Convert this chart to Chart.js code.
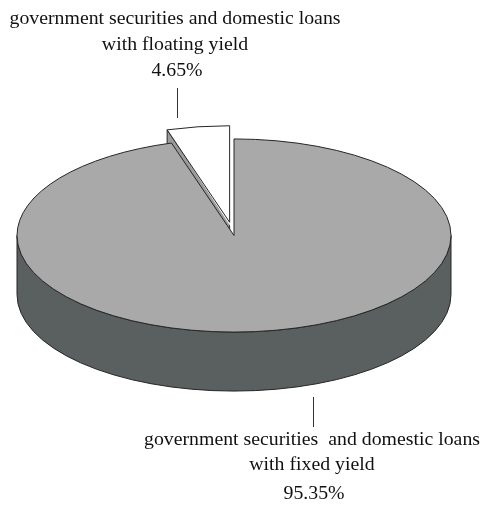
<!DOCTYPE html>
<html>
<head>
<meta charset="utf-8">
<script src="https://cdn.jsdelivr.net/npm/chart.js@4.4.1/dist/chart.umd.min.js"></script>
<style>
  html, body { margin: 0; padding: 0; background: #fff; }
  #wrap { width: 489px; height: 505px; }
</style>
</head>
<body>
<div id="wrap"><canvas id="pie" width="489" height="505"></canvas></div>
<script>
// slice data
const labelLines = [
  ['government securities  and domestic loans', 'with fixed yield'],
  ['government securities and domestic loans', 'with floating yield']
];
const shares = [95.35, 4.65];
const explode = [0, 70];

// look of the disc
const topColors = ['#a9a9a9', '#ffffff'];
const sideColors = ['#5a5f5f', '#9b9b9b'];
const TILT = 0.445;   // vertical squash of the top face
const DEPTH = 59;     // thickness in px
const EDGE = '#262626';

// where each caption sits (bottom one for the big slice, top one for the small)
const captions = [
  { x: 312, lineY: [445, 470], pctY: 499, leadX: 313.5, lead: [397, 427] },
  { x: 175, lineY: [24, 50], pctY: 76, leadX: 177.5, lead: [88, 118] }
];

// same shift ArcElement.draw applies for `offset`
function shiftOf(arc) {
  const o = (arc.options.offset || 0) / 4;
  const half = (arc.startAngle + arc.endAngle) / 2;
  const fix = 1 - Math.sin(Math.min(Math.PI, arc.circumference || 0));
  const d = o * (1 + fix);
  return { dx: Math.cos(half) * d, dy: Math.sin(half) * d };
}

function centerOf(arc) {
  const s = shiftOf(arc);
  return { x: arc.x + s.dx, y: arc.y + s.dy * TILT };
}

function rimPoint(arc, a, drop) {
  const c = centerOf(arc);
  return { x: c.x + arc.outerRadius * Math.cos(a), y: c.y + arc.outerRadius * TILT * Math.sin(a) + drop };
}

const pie3d = {
  id: 'pie3d',
  beforeDatasetsDraw(chart) {
    const ctx = chart.ctx;
    const arcs = chart.getDatasetMeta(0).data;
    ctx.save();
    ctx.lineWidth = 1;
    ctx.strokeStyle = EDGE;
    ctx.lineJoin = 'round';

    // cut faces that turn towards the viewer
    arcs.forEach((arc, i) => {
      const c = centerOf(arc);
      const edges = [];
      if (Math.cos(arc.startAngle) < -1e-6) edges.push(arc.startAngle);
      if (Math.cos(arc.endAngle) > 1e-6) edges.push(arc.endAngle);
      edges.forEach(a => {
        const p = rimPoint(arc, a, 0);
        ctx.beginPath();
        ctx.moveTo(c.x, c.y);
        ctx.lineTo(p.x, p.y);
        ctx.lineTo(p.x, p.y + DEPTH);
        ctx.lineTo(c.x, c.y + DEPTH);
        ctx.closePath();
        ctx.fillStyle = sideColors[i];
        ctx.fill();
        ctx.stroke();
      });
    });

    // outer walls on the front half
    arcs.forEach((arc, i) => {
      const c = centerOf(arc);
      const r = arc.outerRadius;
      [[-2 * Math.PI, -Math.PI], [0, Math.PI], [2 * Math.PI, 3 * Math.PI]].forEach(([f0, f1]) => {
        const lo = Math.max(arc.startAngle, f0);
        const hi = Math.min(arc.endAngle, f1);
        if (hi <= lo) return;
        ctx.beginPath();
        ctx.ellipse(c.x, c.y, r, r * TILT, 0, lo, hi);
        ctx.ellipse(c.x, c.y + DEPTH, r, r * TILT, 0, hi, lo, true);
        ctx.closePath();
        ctx.fillStyle = sideColors[i];
        ctx.fill();
        ctx.stroke();
      });
    });
    ctx.restore();

    // squash the library's arcs into the top face
    const cy = arcs[0].y;
    ctx.save();
    ctx.translate(0, cy);
    ctx.scale(1, TILT);
    ctx.translate(0, -cy);
  },
  afterDatasetsDraw(chart) {
    const ctx = chart.ctx;
    ctx.restore();
    const arcs = chart.getDatasetMeta(0).data;
    ctx.save();
    ctx.lineWidth = 1;
    ctx.strokeStyle = EDGE;
    ctx.lineJoin = 'round';
    arcs.forEach(arc => {
      const c = centerOf(arc);
      const r = arc.outerRadius;
      ctx.beginPath();
      ctx.moveTo(c.x, c.y);
      ctx.ellipse(c.x, c.y, r, r * TILT, 0, arc.startAngle, arc.endAngle);
      ctx.closePath();
      ctx.stroke();
    });
    ctx.restore();
  },
  afterDraw(chart) {
    const ctx = chart.ctx;
    ctx.save();
    ctx.fillStyle = '#111';
    ctx.strokeStyle = '#333';
    ctx.lineWidth = 1;
    ctx.font = '18px "Liberation Serif", "Times New Roman", serif';
    ctx.textAlign = 'center';
    ctx.textBaseline = 'alphabetic';
    const put = (txt, x, y) => {
      ctx.save();
      ctx.translate(x, y);
      ctx.scale(1.1, 1);
      ctx.fillText(txt, 0, 0);
      ctx.restore();
    };
    captions.forEach((cap, i) => {
      labelLines[i].forEach((ln, j) => put(ln, cap.x, cap.lineY[j]));
      put(shares[i].toFixed(2) + '%', cap.x + 2, cap.pctY);
      ctx.beginPath();
      ctx.moveTo(cap.leadX, cap.lead[0]);
      ctx.lineTo(cap.leadX, cap.lead[1]);
      ctx.stroke();
    });
    ctx.restore();
  }
};

new Chart(document.getElementById('pie'), {
  type: 'pie',
  data: {
    labels: labelLines.map(l => l.join(' ')),
    datasets: [{
      data: shares,
      backgroundColor: topColors,
      borderWidth: 0,
      offset: explode,
      clip: false
    }]
  },
  options: {
    responsive: false,
    animation: false,
    events: [],
    radius: 217,
    layout: { padding: { left: 0, right: 21, top: 0, bottom: 34 } },
    plugins: {
      legend: { display: false },
      tooltip: { enabled: false }
    }
  },
  plugins: [pie3d]
});
</script>
</body>
</html>
